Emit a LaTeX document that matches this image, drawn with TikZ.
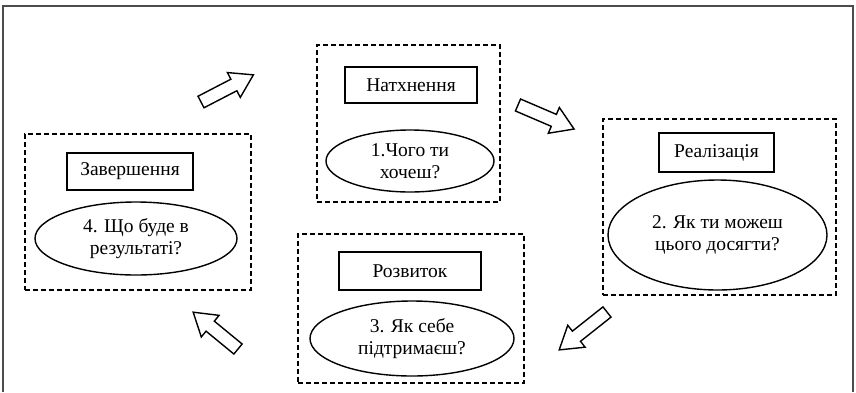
\documentclass[tikz,border=0pt]{standalone}
\usepackage{fontspec}
\setmainfont{Liberation Serif}
\usetikzlibrary{shapes.geometric}
\begin{document}
\begin{tikzpicture}[x=1pt,y=-1pt,
  every node/.style={font=\fontsize{19.5}{22}\selectfont, align=center, inner sep=0pt},
  group/.style={draw, dashed, dash pattern=on 5pt off 3pt, line width=1.5pt, rectangle},
  titlebox/.style={draw, line width=1.4pt, rectangle},
  question/.style={draw, line width=1.4pt, ellipse},
  blockarrow/.style={draw, fill=white, line width=1.4pt, line join=miter}
]
\useasboundingbox (0,0) rectangle (856,392);
\draw[black!70, line width=1.5pt] (3,392) -- (3,6) -- (853,6) -- (853,392);

% Group 1
\node[group, minimum width=183pt, minimum height=157pt] (g1) at (408.5,123.5) {};
\node[titlebox, minimum width=132pt, minimum height=36pt] (t1) at (411,85) {Натхнення};
\node[question, minimum width=168pt, minimum height=62pt] (e1) at (410,161) {1.Чого ти\\хочеш?};

% Group 2
\node[group, minimum width=233pt, minimum height=176pt] (g2) at (719.5,207) {};
\node[titlebox, minimum width=115pt, minimum height=39pt] (t2) at (716.5,152.5) {Реалізація};
\node[question, minimum width=219pt, minimum height=110pt] (e2) at (717.5,235) {2. Як ти можеш\\цього досягти?};

% Group 3
\node[group, minimum width=226pt, minimum height=149pt] (g3) at (411,308.5) {};
\node[titlebox, minimum width=142pt, minimum height=38pt] (t3) at (410,271) {Розвиток};
\node[question, minimum width=204pt, minimum height=75pt] (e3) at (412,338.5) {3. Як себе\\підтримаєш?};

% Group 4
\node[group, minimum width=226pt, minimum height=156pt] (g4) at (138,212) {};
\node[titlebox, minimum width=126pt, minimum height=37pt] (t4) at (130,171.5) {Завершення};
\node[question, minimum width=202pt, minimum height=73pt] (e4) at (136,238.5) {4. Що буде в\\результаті?};

% Block arrows
\coordinate (a1) at (201,102);
\coordinate (a2) at (518,105);
\coordinate (a3) at (607,312);
\coordinate (a4) at (238,349);
\draw[blockarrow, shift={(a1)}, rotate=27.4]
  (0,-6.5) -- (37,-6.5) -- (37,-14) -- (59,0) -- (37,14) -- (37,6.5) -- (0,6.5) -- cycle;
\draw[blockarrow, shift={(a2)}, rotate=-23.2]
  (0,-6.5) -- (39,-6.5) -- (39,-14) -- (61,0) -- (39,14) -- (39,6.5) -- (0,6.5) -- cycle;
\draw[blockarrow, shift={(a3)}, rotate=-141.6]
  (0,-6.5) -- (39,-6.5) -- (39,-14) -- (61,0) -- (39,14) -- (39,6.5) -- (0,6.5) -- cycle;
\draw[blockarrow, shift={(a4)}, rotate=140.6]
  (0,-6.5) -- (36,-6.5) -- (36,-14) -- (58,0) -- (36,14) -- (36,6.5) -- (0,6.5) -- cycle;
\end{tikzpicture}
\end{document}
